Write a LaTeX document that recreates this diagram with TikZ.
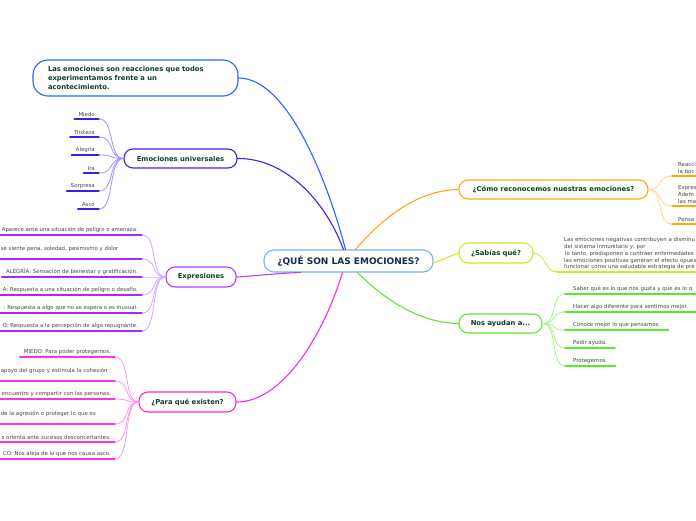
\documentclass[tikz,border=0pt]{standalone}
\usepackage{fontspec}
\setmainfont{DejaVu Sans}

\definecolor{cqline}{RGB}{120,180,230}
\definecolor{cqtext}{RGB}{27,42,74}
\definecolor{toptext}{RGB}{15,61,46}
\definecolor{subtext}{RGB}{70,70,70}
\definecolor{defline}{RGB}{41,98,255}
\definecolor{euline}{RGB}{74,30,232}
\definecolor{euconn}{RGB}{165,145,255}
\definecolor{euunder}{RGB}{60,30,224}
\definecolor{exline}{RGB}{185,60,255}
\definecolor{exconn}{RGB}{215,165,255}
\definecolor{exunder}{RGB}{170,40,255}
\definecolor{pqline}{RGB}{255,40,220}
\definecolor{pqconn}{RGB}{255,150,238}
\definecolor{pqunder}{RGB}{255,51,221}
\definecolor{crline}{RGB}{255,165,20}
\definecolor{crconn}{RGB}{255,212,145}
\definecolor{crunder}{RGB}{255,170,0}
\definecolor{sqline}{RGB}{205,235,40}
\definecolor{naline}{RGB}{90,235,40}
\definecolor{naconn}{RGB}{165,245,135}
\definecolor{naunder}{RGB}{85,238,34}

\begin{document}
\begin{tikzpicture}[x=1pt,y=-1pt,line join=round,line cap=round,
  topic/.style={draw,fill=white,rounded corners=9pt,line width=1.1pt,
    font=\bfseries\fontsize{6.8}{8.6}\selectfont,text=toptext,inner sep=0pt},
  sub/.style={font=\fontsize{5.4}{7}\selectfont,text=subtext,
    inner xsep=4pt,inner ysep=1.8pt},
  under/.style={line width=1.6pt},
  conn/.style={line width=0.8pt},
  branch/.style={line width=1.1pt},
  wrapex/.style={text width=137pt,align=left},
  wrappq/.style={text width=110pt,align=left},
  wide/.style={text width=140pt,align=left},
  plain/.style={}]
\useasboundingbox (0,0) rectangle (696,520);
\clip (0,0) rectangle (696,520);

%% ---------------- main topics ----------------
\node[topic,draw=cqline,text=cqtext,rounded corners=10pt,
  minimum width=169pt,minimum height=22pt,font=\bfseries\fontsize{9}{10}\selectfont]
  (cq) at (348.5,261) {¿QUÉ SON LAS EMOCIONES?};
\node[topic,draw=defline,rounded corners=15pt,minimum height=36pt,
  text width=175pt,inner xsep=15pt,align=left] (def) at (135.5,78)
  {Las emociones son reacciones que todos\\experimentamos frente a un\\acontecimiento.};
\node[topic,draw=euline,minimum width=113pt,minimum height=19pt] (eu) at (180.5,158.5) {Emociones universales};
\node[topic,draw=exline,minimum width=70pt,minimum height=20pt] (ex) at (201,277) {Expresiones};
\node[topic,draw=pqline,minimum width=97pt,minimum height=20pt] (pq) at (187.5,402) {¿Para qué existen?};
\node[topic,draw=crline,minimum width=189pt,minimum height=19pt] (cr) at (553.5,189.5) {¿Cómo reconocemos nuestras emociones?};
\node[topic,draw=sqline,minimum width=74pt,minimum height=20pt] (sq) at (496,253) {¿Sabías qué?};
\node[topic,draw=naline,minimum width=83pt,minimum height=19pt] (na) at (500.5,323.5) {Nos ayudan a...};

%% branches out of the centre
\draw[branch,defline] ([xshift=-3pt]cq.north) .. controls (330,190) and (290,78) .. (def.east);
\draw[branch,euline] ([xshift=-5pt]cq.north) .. controls (325,200) and (285,158) .. (eu.east);
\draw[branch,exline] ([xshift=-48pt]cq.south) .. controls (280,273) and (255,276) .. (ex.east);
\draw[branch,pqline] ([xshift=-6pt]cq.south) .. controls (325,330) and (285,402) .. (pq.east);
\draw[branch,crline] ([xshift=7pt]cq.north) .. controls (385,215) and (420,190) .. (cr.west);
\draw[branch,sqline] ([yshift=-2pt]cq.east) -- (sq.west);
\draw[branch,naline] ([xshift=9pt]cq.south) .. controls (385,300) and (420,323) .. (na.west);

%% ---------------- emociones universales ----------------
\foreach \i/\y/\t in {1/119/Miedo,2/137/Tristeza,3/155/Alegría,4/173/Ira,
                      5/191/Sorpresa,6/209/Asco}{
  \node[sub,anchor=south east] (eu\i) at (99,\y) {\t};
  \draw[under,euunder] (eu\i.south west) -- (eu\i.south east);
  \draw[conn,euconn] (eu\i.south east) .. controls (115,\y) and (108,158.5) .. (eu.west);
}

%% ---------------- expresiones ----------------
\foreach \i/\y/\st/\t in {
    1/235/plain/{Aparece ante una situación de peligro o amenaza.},
    2/259/wrapex/{se siente pena, soledad, pesimismo y dolor\\\mbox{}},
    3/277/plain/{ALEGRÍA: Sensación de bienestar y gratificación.},
    4/295/plain/{A: Respuesta a una situación de peligro o desafío.},
    5/313/plain/{: Respuesta a algo que no se espera o es inusual.},
    6/331/plain/{O: Respuesta a la percepción de algo repugnante.}}{
  \node[sub,anchor=south east,\st] (ex\i) at (142,\y) {\t};
  \draw[under,exunder] (ex\i.south west) -- (ex\i.south east);
  \draw[conn,exconn] (ex\i.south east) .. controls (158,\y) and (150,277) .. (ex.west);
}

%% ---------------- para que existen ----------------
\foreach \i/\y/\st/\t in {
    1/357/plain/{MIEDO: Para poder protegernos.},
    2/381/wrappq/{apoyo del grupo y estimula la cohesión\\\mbox{}},
    3/399/plain/{encuentro y compartir con las personas.},
    4/424/wrappq/{de la agresión o proteger lo que es\\\mbox{}},
    5/442/plain/{s orienta ante sucesos desconcertantes.},
    6/459/plain/{CO: Nos aleja de lo que nos causa asco.}}{
  \node[sub,anchor=south east,\st] (pq\i) at (115,\y) {\t};
  \draw[under,pqunder] (pq\i.south west) -- (pq\i.south east);
  \draw[conn,pqconn] (pq\i.south east) .. controls (131,\y) and (123,402) .. (pq.west);
}

%% ---------------- como reconocemos ----------------
\foreach \i/\y/\t in {1/176/{Reacci\\la boc},2/206/{Expres\\Adem\\las ma},3/224/{Pensa}}{
  \node[sub,anchor=south west,inner xsep=6pt,text width=40pt,align=left] (cr\i) at (672,\y) {\t};
  \draw[under,crunder] (cr\i.south west) -- (cr\i.south east);
  \draw[conn,crconn] (cr.east) .. controls (664,189.5) and (656,\y) .. (cr\i.south west);
}

%% ---------------- sabias que ----------------
\node[sub,anchor=south west,inner xsep=7pt,text width=150pt,align=left,
  font=\fontsize{5.4}{6.8}\selectfont] (sq1) at (557,272)
  {Las emociones negativas contribuyen a disminu\\del sistema inmunitario y, por\\
   \hspace{1pt}lo tanto, predisponen a contraer enfermedades\\
   las emociones positivas generan el efecto opues\\
   funcionar como una saludable estrategia de pre};
\draw[under,sqline] (sq1.south west) -- (sq1.south east);
\draw[conn,sqline] (sq.east) .. controls (545,253) and (545,272) .. (sq1.south west);

%% ---------------- nos ayudan a ----------------
\foreach \i/\y/\st/\t in {
    1/294/wide/{Saber qué es lo que nos gusta y que es lo q},
    2/312/wide/{Hacer algo diferente para sentirnos mejor.},
    3/330/plain/{Conoce mejor lo que pensamos.},
    4/348/plain/{Pedir ayuda.},
    5/366/plain/{Protegernos.}}{
  \node[sub,anchor=south west,inner xsep=8pt,\st] (na\i) at (565,\y) {\t};
  \draw[under,naunder] (na\i.south west) -- (na\i.south east);
  \draw[conn,naconn] (na.east) .. controls (558,323.5) and (550,\y) .. (na\i.south west);
}
\end{tikzpicture}
\end{document}
